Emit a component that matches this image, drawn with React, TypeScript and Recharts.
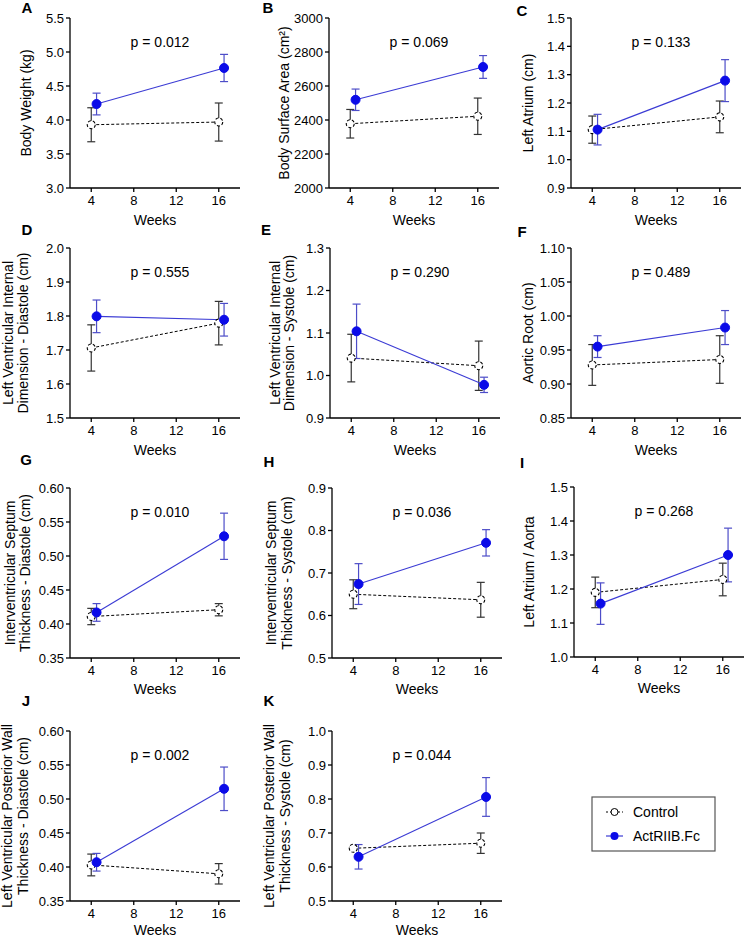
import React from 'react';
import { LineChart, Line, XAxis, YAxis, ErrorBar } from 'recharts';

// shared x values (ActRIIB.Fc is nudged right so the error bars don't overlap)
const weeksControl = [4, 16];
const weeksActRIIB = [4.5, 16.5];
const weekTicks = [4, 8, 12, 16];

const panelLetters = ['A', 'B', 'C', 'D', 'E', 'F', 'G', 'H', 'I', 'J', 'K'];

const yLabels: string[][] = [
  ['Body Weight (kg)'],
  ['Body Surface Area (cm²)'],
  ['Left Atrium (cm)'],
  ['Left Ventricular Internal', 'Dimension - Diastole (cm)'],
  ['Left Ventricular Internal', 'Dimension - Systole (cm)'],
  ['Aortic Root (cm)'],
  ['Interventricular Septum', 'Thickness - Diastole (cm)'],
  ['Interventricular Septum', 'Thickness - Systole (cm)'],
  ['Left Atrium / Aorta'],
  ['Left Ventricular Posterior Wall', 'Thickness - Diastole (cm)'],
  ['Left Ventricular Posterior Wall', 'Thickness - Systole (cm)'],
];

const pValues = [
  'p = 0.012', 'p = 0.069', 'p = 0.133', 'p = 0.555', 'p = 0.290', 'p = 0.489',
  'p = 0.010', 'p = 0.036', 'p = 0.268', 'p = 0.002', 'p = 0.044',
];

const controlMean = [
  [3.93, 3.97], [2378, 2422], [1.106, 1.151], [1.706, 1.779], [1.041, 1.023], [0.928, 0.936],
  [0.411, 0.421], [0.65, 0.637], [1.19, 1.228], [0.403, 0.39], [0.655, 0.67],
];
const controlSem = [
  [0.25, 0.28], [84, 107], [0.048, 0.056], [0.068, 0.064], [0.056, 0.058], [0.03, 0.035],
  [0.012, 0.009], [0.034, 0.041], [0.045, 0.048], [0.016, 0.015], [0.004, 0.03],
];
const actMean = [
  [4.235, 4.765], [2519, 2712], [1.106, 1.279], [1.799, 1.789], [1.104, 0.978], [0.955, 0.983],
  [0.417, 0.529], [0.674, 0.771], [1.157, 1.3], [0.407, 0.515], [0.63, 0.806],
];
const actSem = [
  [0.16, 0.2], [63, 67], [0.054, 0.074], [0.048, 0.048], [0.064, 0.018], [0.016, 0.025],
  [0.013, 0.034], [0.048, 0.031], [0.061, 0.079], [0.013, 0.032], [0.036, 0.057],
];

const yTicks = [
  [3.0, 3.5, 4.0, 4.5, 5.0, 5.5],
  [2000, 2200, 2400, 2600, 2800, 3000],
  [0.9, 1.0, 1.1, 1.2, 1.3, 1.4, 1.5],
  [1.5, 1.6, 1.7, 1.8, 1.9, 2.0],
  [0.9, 1.0, 1.1, 1.2, 1.3],
  [0.85, 0.9, 0.95, 1.0, 1.05, 1.1],
  [0.35, 0.4, 0.45, 0.5, 0.55, 0.6],
  [0.5, 0.6, 0.7, 0.8, 0.9],
  [1.0, 1.1, 1.2, 1.3, 1.4, 1.5],
  [0.35, 0.4, 0.45, 0.5, 0.55, 0.6],
  [0.5, 0.6, 0.7, 0.8, 0.9, 1.0],
];
const yDecimals = [1, 0, 1, 1, 1, 2, 2, 1, 1, 2, 1];

// layout: axis corner (left, top of plot) for every panel
const panelOrigin = [
  [70, 18], [329, 18], [571, 18],
  [70, 248], [330, 248], [571, 248],
  [70, 488], [332, 488], [574, 487],
  [70, 731], [332, 731],
];
const yLabelOffsets = [
  [-44], [-45], [-43.5],
  [-62, -47], [-55, -41], [-43.5],
  [-60, -45], [-61, -45.5], [-45.5],
  [-63, -47], [-63, -47],
];
const weeksOffset = [32, 32, 32, 32, 32, 32, 31, 31, 31, 29, 29];
const letterPos = [
  [27, 7], [268, 7], [522, 10],
  [27, 229], [266, 229], [522, 231],
  [26, 459], [269, 461], [522, 462],
  [26, 700], [269, 700],
];

const PLOT_W = 170;
const PLOT_H = 170;
const LEFT = 70;
const TOP = 14;
const FONT = '"Liberation Sans", Arial, sans-serif';

const BLUE_LINE = '#3b3bd4';
const BLUE_DOT = '#0b0be8';
const BLUE_ERR = '#4d4dc8';

function Panel({ i }: { i: number }) {
  const [ax, ay] = panelOrigin[i];
  const W = LEFT + PLOT_W + 8;
  const H = TOP + PLOT_H + 45;
  const ticks = yTicks[i];
  const dec = yDecimals[i];

  const ctrl = weeksControl.map((w, k) => ({ week: w, value: controlMean[i][k], err: controlSem[i][k] }));
  const act = weeksActRIIB.map((w, k) => ({ week: w, value: actMean[i][k], err: actSem[i][k] }));

  const cy = TOP + PLOT_H / 2;

  return (
    <div style={{ position: 'absolute', left: ax - LEFT, top: ay - TOP, width: W, height: H }}>
      <LineChart width={W} height={H} margin={{ top: TOP, right: 8, bottom: 0, left: 0 }}>
        <XAxis
          type="number"
          dataKey="week"
          domain={[2, 18]}
          ticks={weekTicks}
          allowDataOverflow
          height={45}
          tickSize={4}
          tickMargin={4}
          axisLine={{ stroke: '#000', strokeWidth: 1.3 }}
          tickLine={{ stroke: '#000', strokeWidth: 1.3 }}
          tick={{ fill: '#000', fontSize: 13 }}
        />
        <YAxis
          type="number"
          domain={[ticks[0], ticks[ticks.length - 1]]}
          ticks={ticks}
          allowDataOverflow
          width={LEFT}
          tickSize={4}
          tickMargin={2}
          axisLine={{ stroke: '#000', strokeWidth: 1.3 }}
          tickLine={{ stroke: '#000', strokeWidth: 1.3 }}
          tick={{ fill: '#000', fontSize: 13 }}
          tickFormatter={(v: number) => v.toFixed(dec)}
        />
        <Line
          data={ctrl}
          dataKey="value"
          stroke="#000"
          strokeWidth={1}
          strokeDasharray="3 2"
          dot={{ r: 4, fill: '#fff', stroke: '#000', strokeWidth: 1.1 }}
          isAnimationActive={false}
        >
          <ErrorBar dataKey="err" width={4} stroke="#333" strokeWidth={1.2} direction="y" />
        </Line>
        <Line
          data={act}
          dataKey="value"
          stroke={BLUE_LINE}
          strokeWidth={1.1}
          dot={{ r: 4.5, fill: BLUE_DOT, stroke: BLUE_DOT, strokeWidth: 1 }}
          isAnimationActive={false}
        >
          <ErrorBar dataKey="err" width={4} stroke={BLUE_ERR} strokeWidth={1.2} direction="y" />
        </Line>
      </LineChart>
      <svg
        width={W}
        height={H}
        style={{ position: 'absolute', left: 0, top: 0, overflow: 'visible', pointerEvents: 'none' }}
      >
        {yLabels[i].map((line, k) => (
          <text
            key={k}
            transform={`translate(${LEFT + yLabelOffsets[i][k]},${cy}) rotate(-90)`}
            textAnchor="middle"
            dominantBaseline="central"
            fontSize={14}
            fill="#000"
          >
            {line}
          </text>
        ))}
        <text x={LEFT + 90} y={TOP + 24} textAnchor="middle" dominantBaseline="central" fontSize={14} fill="#000">
          {pValues[i]}
        </text>
        <text
          x={LEFT + PLOT_W / 2}
          y={TOP + PLOT_H + weeksOffset[i]}
          textAnchor="middle"
          dominantBaseline="central"
          fontSize={14}
          fill="#000"
        >
          Weeks
        </text>
      </svg>
    </div>
  );
}

function LegendBox() {
  return (
    <svg width={126} height={57} style={{ position: 'absolute', left: 591, top: 796 }}>
      <rect x={1} y={1} width={123} height={54} fill="#fff" stroke="#555" strokeWidth={1.2} />
      <line x1={15} x2={32} y1={16} y2={16} stroke="#000" strokeWidth={1} strokeDasharray="2 2" />
      <circle cx={23.5} cy={16} r={3.5} fill="#fff" stroke="#000" strokeWidth={1} />
      <text x={42} y={16} dominantBaseline="central" fontSize={14} fill="#000">Control</text>
      <line x1={15} x2={32} y1={40} y2={40} stroke={BLUE_LINE} strokeWidth={1.2} />
      <circle cx={23.5} cy={40} r={4} fill={BLUE_DOT} />
      <text x={42} y={40} dominantBaseline="central" fontSize={14} fill="#000">ActRIIB.Fc</text>
    </svg>
  );
}

export default function App() {
  return (
    <div
      style={{
        position: 'absolute',
        left: 0,
        top: 0,
        width: 746,
        height: 939,
        background: '#fff',
        fontFamily: FONT,
        overflow: 'hidden',
      }}
    >
      {panelLetters.map((_, i) => (
        <Panel key={i} i={i} />
      ))}
      <svg width={746} height={939} style={{ position: 'absolute', left: 0, top: 0, pointerEvents: 'none' }}>
        {panelLetters.map((l, i) => (
          <text
            key={l}
            x={letterPos[i][0]}
            y={letterPos[i][1]}
            textAnchor="middle"
            dominantBaseline="central"
            fontSize={15}
            fontWeight="bold"
            fill="#000"
          >
            {l}
          </text>
        ))}
      </svg>
      <LegendBox />
    </div>
  );
}
